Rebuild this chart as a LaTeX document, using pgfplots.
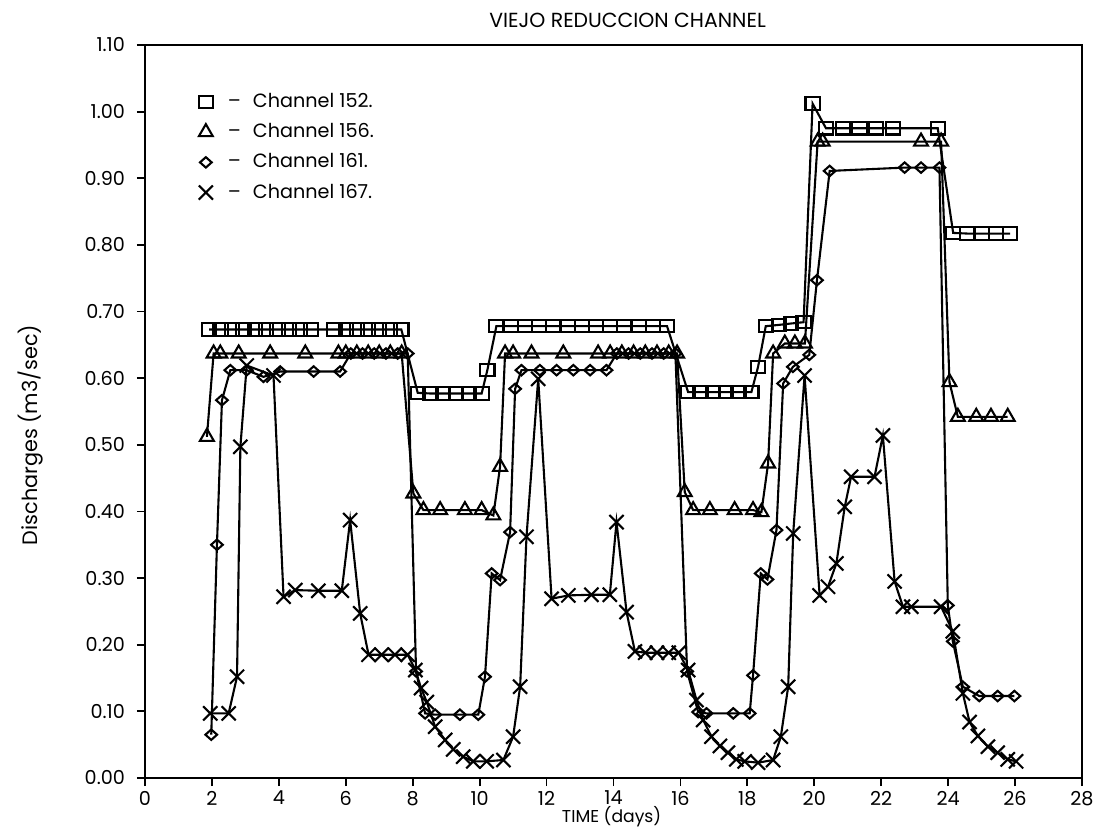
\documentclass[border=0pt]{standalone}
\usepackage{pgfplots}
\pgfplotsset{compat=1.18}
\usepackage{fontspec}
\setmainfont{Poppins}
\begin{document}
\begin{tikzpicture}
\begin{axis}[
  name=ax,
  scale only axis,
  width=468.5pt, height=366.5pt,
  xmin=0, xmax=28, ymin=0, ymax=1.10,
  xtick={0,2,...,28}, ytick={0,0.1,...,1.1},
  xtick pos=left, ytick pos=left,
  tick align=outside, major tick length=4pt,
  axis line style={line width=1.2pt},
  every tick/.style={line width=0.9pt, black},
  /pgf/number format/assume math mode=true,
  yticklabel style={/pgf/number format/fixed, /pgf/number format/fixed zerofill, /pgf/number format/precision=2, xshift=-2.5pt},
  xticklabel style={/pgf/number format/fixed, /pgf/number format/precision=0, yshift=1pt},
  tick label style={font=\fontsize{9.6}{11}\selectfont},
  title={\fontsize{10.2}{12}\selectfont VIEJO REDUCCION CHANNEL},
  title style={at={(axis description cs:0.515,1.034)}, anchor=center, yshift=-6pt, inner sep=1pt},
  xlabel={\fontsize{8.6}{10}\selectfont TIME (days)},
  xlabel style={at={(axis description cs:0.498,-0.0525)}, anchor=center},
  ylabel={\fontsize{10.4}{12}\selectfont Discharges (m3/sec)},
  ylabel style={at={(axis description cs:-0.1227,0.468)}, anchor=center},
  every axis plot/.append style={black, line width=1.05pt, mark options={solid, line width=1.05pt}},
  legend image code/.code={\draw[#1] plot coordinates {(0cm,0cm)}; \path (-0.1cm,0cm) (0.3cm,0cm);},
  legend cell align=left,
  legend style={draw=none, fill=none, at={(axis description cs:0.0505,0.9455)}, anchor=north west,
    font=\fontsize{9.6}{11}\selectfont, row sep=2.5pt},
]
% Channel 152
\addplot[mark=square, mark size=3.1pt, mark options={xscale=1.15}] coordinates {
(1.92,0.673) (2.26,0.673) (2.60,0.673) (2.94,0.673) (3.28,0.673) (3.62,0.673) (3.96,0.673) (4.30,0.673) (4.64,0.673) (4.97,0.673)
(5.66,0.673) (6.0,0.673) (6.33,0.673) (6.66,0.673) (7.0,0.673) (7.33,0.673) (7.66,0.673)
(8.15,0.578) (8.53,0.577) (8.91,0.577) (9.30,0.577) (9.68,0.577) (10.06,0.577)
(10.23,0.612)
(10.5,0.678) (10.93,0.678) (11.35,0.678) (11.78,0.678) (12.2,0.678) (12.63,0.678) (13.05,0.678) (13.48,0.678) (13.9,0.678) (14.33,0.678) (14.75,0.678) (15.18,0.678) (15.6,0.678)
(16.23,0.579) (16.6,0.579) (16.98,0.579) (17.36,0.579) (17.74,0.579) (18.12,0.579)
(18.32,0.617)
(18.55,0.678) (18.95,0.680) (19.3,0.682) (19.68,0.684)
(19.95,1.012)
(20.35,0.975) (20.85,0.975) (21.35,0.975) (21.85,0.975) (22.35,0.975) (23.69,0.975)
(24.15,0.818) (24.58,0.817) (25.0,0.817) (25.43,0.817) (25.85,0.817)
};
\addlegendentry{--\hspace{6pt}Channel 152.}
% Channel 156
\addplot[mark=triangle, mark size=4pt] coordinates {
(1.85,0.512) (2.05,0.637) (2.25,0.637) (2.80,0.637) (3.74,0.637) (4.79,0.637) (5.78,0.637) (6.0,0.637) (6.33,0.637) (6.67,0.637) (7.0,0.637) (7.33,0.637) (7.67,0.637)
(8.02,0.427) (8.32,0.402) (8.82,0.402) (9.56,0.402) (10.06,0.402) (10.41,0.394) (10.61,0.467) (10.76,0.637) (11.0,0.637) (11.55,0.637) (12.5,0.637) (13.54,0.637) (13.9,0.637) (14.25,0.637) (14.6,0.637) (14.95,0.637) (15.3,0.637) (15.65,0.637) (15.9,0.637)
(16.13,0.429) (16.38,0.402) (16.88,0.402) (17.62,0.402) (18.17,0.402) (18.42,0.399) (18.62,0.472) (18.77,0.637) (19.12,0.652) (19.42,0.652) (19.72,0.652)
(20.1,0.955) (20.25,0.955) (23.19,0.955) (23.79,0.955) (24.04,0.594) (24.29,0.542) (24.84,0.542) (25.28,0.542) (25.78,0.542)
};
\addlegendentry{--\hspace{6pt}Channel 156.}
% Channel 161
\addplot[mark=diamond, mark size=2.6pt, mark options={xscale=1.5}] coordinates {
(1.98,0.065) (2.15,0.350) (2.30,0.567) (2.55,0.612) (3.04,0.612) (3.54,0.602) (4.04,0.610) (5.04,0.610) (5.83,0.610) (6.15,0.637) (6.5,0.637) (6.85,0.637) (7.2,0.637) (7.55,0.637) (7.85,0.637)
(8.1,0.16) (8.37,0.097) (8.67,0.095) (9.41,0.095) (9.96,0.095) (10.16,0.152) (10.36,0.307) (10.61,0.297) (10.91,0.369) (11.06,0.584) (11.25,0.612) (11.80,0.612) (12.30,0.612) (12.80,0.612) (13.30,0.612) (13.79,0.612) (14.1,0.637) (14.45,0.637) (14.8,0.637) (15.15,0.637) (15.5,0.637) (15.85,0.637)
(16.2,0.16) (16.53,0.099) (16.78,0.097) (17.58,0.097) (18.07,0.097) (18.17,0.154) (18.4,0.307) (18.6,0.298) (18.87,0.372) (19.07,0.592) (19.36,0.617) (19.85,0.635) (20.08,0.747) (20.46,0.911) (22.7,0.916) (23.19,0.916) (23.74,0.916) (23.99,0.259) (24.14,0.205) (24.44,0.137) (24.93,0.123) (25.48,0.123) (25.98,0.123)
};
\addlegendentry{--\hspace{6pt}Channel 161.}
% Channel 167
\addplot[mark=x, mark size=5pt] coordinates {
(1.95,0.097) (2.50,0.097) (2.75,0.152) (2.85,0.497) (3.04,0.619) (3.84,0.604) (4.14,0.272) (4.49,0.282) (5.18,0.281) (5.88,0.281) (6.13,0.387) (6.43,0.247) (6.68,0.185) (7.07,0.185) (7.47,0.185) (7.85,0.185)
(8.08,0.162) (8.25,0.135) (8.42,0.114) (8.67,0.077) (8.97,0.057) (9.21,0.043) (9.51,0.032) (9.81,0.025) (10.21,0.025) (10.71,0.027) (11.0,0.062) (11.21,0.137) (11.40,0.362) (11.75,0.599) (12.15,0.269) (12.65,0.274) (13.34,0.275) (13.89,0.275) (14.09,0.384) (14.39,0.249) (14.64,0.19) (14.95,0.188) (15.3,0.188) (15.65,0.188) (15.95,0.188)
(16.23,0.162) (16.48,0.117) (16.68,0.087) (16.93,0.062) (17.18,0.048) (17.42,0.038) (17.67,0.028) (17.92,0.025) (18.32,0.023) (18.77,0.027) (19.0,0.062) (19.22,0.137) (19.37,0.367) (19.71,0.604) (20.16,0.274) (20.41,0.287) (20.66,0.322) (20.91,0.407) (21.1,0.452) (21.8,0.452) (22.05,0.514) (22.4,0.295) (22.65,0.257) (22.9,0.257) (23.79,0.257) (24.14,0.22) (24.44,0.127) (24.64,0.084) (24.89,0.063) (25.19,0.047) (25.48,0.038) (25.78,0.028) (26.03,0.025)
};
\addlegendentry{--\hspace{6pt}Channel 167.}
\end{axis}
\path ([shift={(-72.5pt,-28.5pt)}]ax.south west) rectangle ([shift={(16pt,22.5pt)}]ax.north east);
\end{tikzpicture}
\end{document}
